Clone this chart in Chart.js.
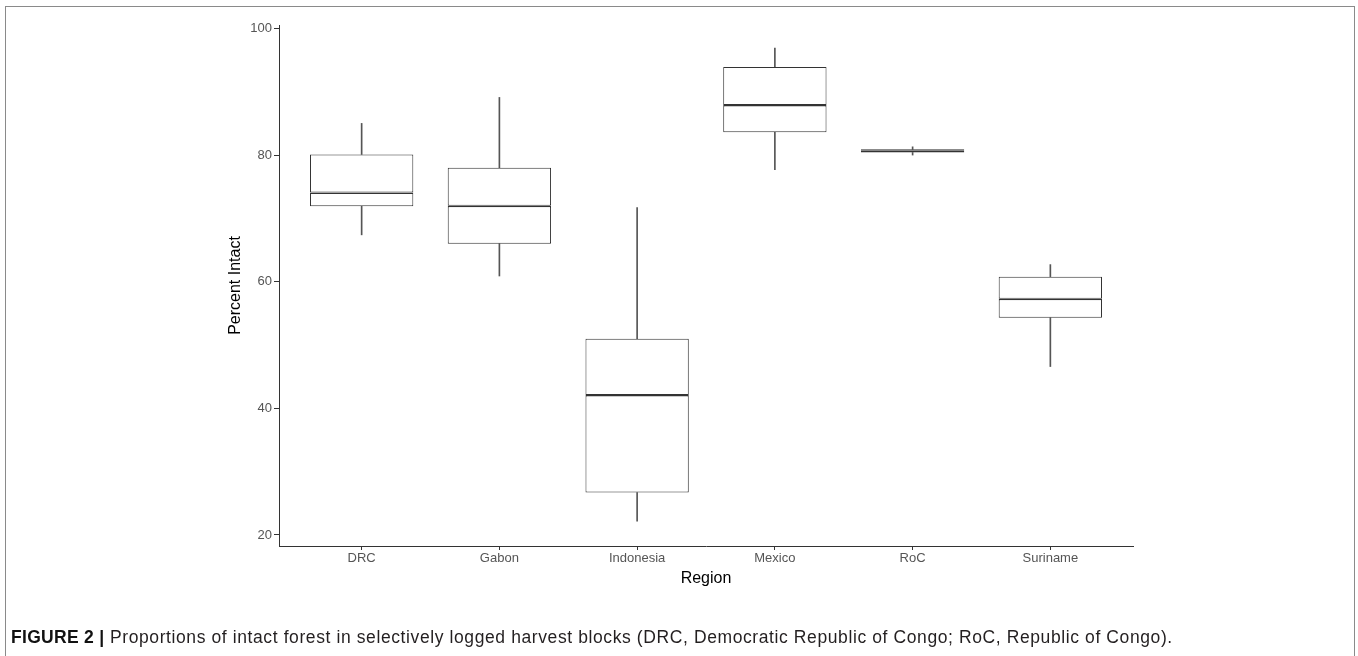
<!DOCTYPE html>
<html>
<head>
<meta charset="utf-8">
<script src="https://cdn.jsdelivr.net/npm/chart.js@4.4.1/dist/chart.umd.min.js"></script>
<style>
  html, body { margin: 0; padding: 0; background: #fff; }
  #wrap { position: relative; width: 1358px; height: 656px; overflow: hidden; background: #fff; }
  #c { position: absolute; left: 0; top: 0; }
  #frame { position: absolute; left: 5px; top: 6px; width: 1348px; height: 720px;
           border-left: 1.5px solid #8a8a8a; border-top: 1.5px solid #8a8a8a; border-right: 1.5px solid #8a8a8a; }
  #caption { position: absolute; left: 11px; top: 628px; font-family: "Liberation Sans", Arial, sans-serif;
             font-size: 17.5px; line-height: 18px; letter-spacing: 0.6px; color: #231f20; white-space: nowrap; }
  #caption b { font-weight: bold; color: #111; letter-spacing: 0.3px; }
</style>
</head>
<body>
<div id="wrap">
  <div id="frame"></div>
  <canvas id="c" width="1358" height="656"></canvas>
  <div id="caption"><b>FIGURE 2 |</b> Proportions of intact forest in selectively logged harvest blocks (DRC, Democratic Republic of Congo; RoC, Republic of Congo).</div>
</div>
<script>
// ---- data ----
const categories  = ['DRC', 'Gabon', 'Indonesia', 'Mexico', 'RoC', 'Suriname'];
const whiskerLow  = [67.4, 60.9, 22.2, 77.7, 80.0, 46.6];
const q1          = [71.9, 66.0, 26.7, 83.6, 80.4, 54.3];
const median      = [74.1, 72.0, 42.1, 87.9, 80.7, 57.3];
const q3          = [80.1, 78.0, 51.0, 93.9, 80.9, 60.8];
const whiskerHigh = [85.0, 89.1, 71.7, 96.9, 81.3, 62.7];
const yTicks      = [20, 40, 60, 80, 100];
const xLabel = 'Region';
const yLabel = 'Percent Intact';

const pts = (lo, hi) => categories.map((_, i) => ({ x: i + 1, y: [lo[i], hi[i]] }));

const lineCol = '#333333';
const fontFam = '"Liberation Sans", Arial, sans-serif';

new Chart(document.getElementById('c'), {
  type: 'bar',
  data: {
    datasets: [
      { label: 'lowerBox', data: pts(q1, median), backgroundColor: '#ffffff', borderColor: lineCol,
        borderWidth: { top: 1.5, bottom: 1, left: 1, right: 1 }, borderSkipped: false, grouped: false,
        categoryPercentage: 1, barPercentage: 0.75, order: 1 },
      { label: 'upperBox', data: pts(median, q3), backgroundColor: '#ffffff', borderColor: lineCol,
        borderWidth: { top: 1, bottom: 1, left: 1, right: 1 }, borderSkipped: false, grouped: false,
        categoryPercentage: 1, barPercentage: 0.75, order: 1 },
      { label: 'lowWhisker', data: pts(whiskerLow, q1), backgroundColor: '#555555', borderWidth: 0,
        grouped: false, barThickness: 1, order: 2 },
      { label: 'highWhisker', data: pts(q3, whiskerHigh), backgroundColor: '#555555', borderWidth: 0,
        grouped: false, barThickness: 1, order: 2 }
    ]
  },
  options: {
    responsive: false,
    animation: false,
    devicePixelRatio: 1,
    layout: { padding: { left: 200, right: 225, top: 25, bottom: 0 } },
    plugins: { legend: { display: false }, tooltip: { enabled: false }, title: { display: false } },
    scales: {
      x: {
        type: 'linear', min: 0.4, max: 6.6, offset: false,
        afterBuildTicks: s => { s.ticks = categories.map((_, i) => ({ value: i + 1 })); },
        afterFit: s => { s.height = 110; },
        ticks: { callback: v => categories[Math.round(v) - 1] || '', color: '#555555', padding: 1,
                 font: { family: fontFam, size: 13 }, maxRotation: 0, autoSkip: false },
        grid: { display: true, offset: false, drawOnChartArea: false, drawTicks: true, tickLength: 4, color: lineCol },
        border: { display: true, color: lineCol, width: 1 },
        title: { display: true, text: xLabel, color: '#000', font: { family: fontFam, size: 16 },
                 padding: { top: 0, bottom: 68 } }
      },
      y: {
        type: 'linear', min: 18.26, max: 100.54,
        afterBuildTicks: s => { s.ticks = yTicks.map(v => ({ value: v })); },
        afterFit: s => { s.width = 79; },
        ticks: { color: '#555555', padding: 2, font: { family: fontFam, size: 13 } },
        grid: { display: true, drawOnChartArea: false, drawTicks: true, tickLength: 5, color: lineCol },
        border: { display: true, color: lineCol, width: 1 },
        title: { display: true, text: yLabel, color: '#000', font: { family: fontFam, size: 16 },
                 padding: { top: 26, bottom: 0 } }
      }
    }
  }
});
</script>
</body>
</html>
